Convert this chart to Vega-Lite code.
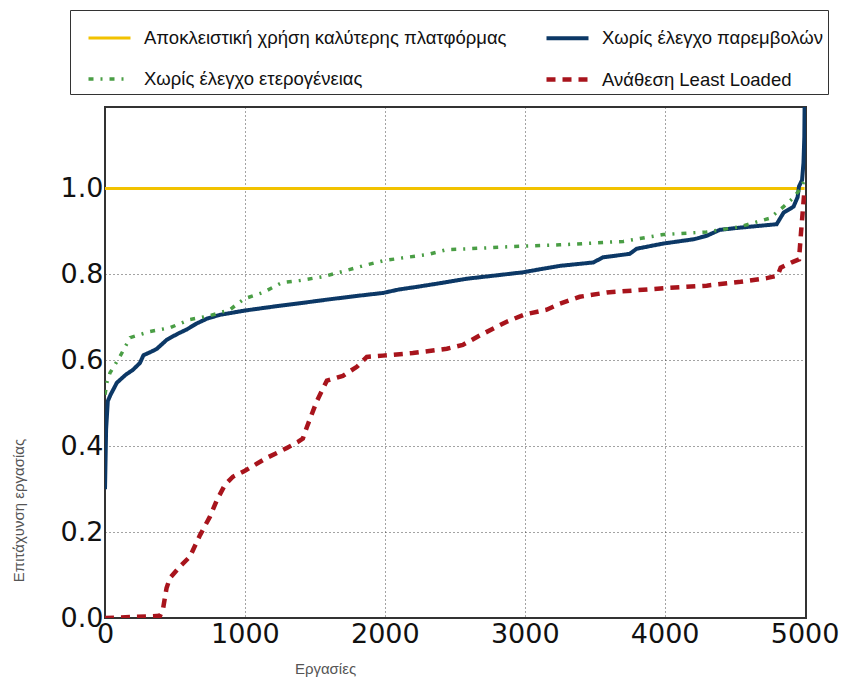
{
  "$schema": "https://vega.github.io/schema/vega-lite/v6.json",
  "width": 701,
  "height": 511,
  "autosize": "none",
  "padding": {"left": 105, "top": 107, "right": 42, "bottom": 63},
  "background": "white",
  "config": {
    "view": {"stroke": "#333", "strokeWidth": 2},
    "axis": {
      "labelFont": "DejaVu Sans",
      "labelFontSize": 27,
      "labelColor": "#111",
      "labelFlush": false,
      "titleFont": "Liberation Sans",
      "titleFontSize": 15,
      "titleFontWeight": "normal",
      "titleColor": "#555",
      "domain": false,
      "ticks": false,
      "gridColor": "#333",
      "gridDash": [1, 3],
      "gridWidth": 1,
      "gridOpacity": 0.9
    },
    "legend": {
      "labelFont": "Liberation Sans",
      "labelFontSize": 18.5,
      "labelColor": "#111"
    }
  },
  "data": {
    "values": [
      {"s": "Αποκλειστική χρήση καλύτερης πλατφόρμας", "x": 0, "y": 1.0},
      {"s": "Αποκλειστική χρήση καλύτερης πλατφόρμας", "x": 5000, "y": 1.0},

      {"s": "Χωρίς έλεγχο παρεμβολών", "x": 0, "y": 0.30},
      {"s": "Χωρίς έλεγχο παρεμβολών", "x": 8, "y": 0.44},
      {"s": "Χωρίς έλεγχο παρεμβολών", "x": 20, "y": 0.505},
      {"s": "Χωρίς έλεγχο παρεμβολών", "x": 40, "y": 0.52},
      {"s": "Χωρίς έλεγχο παρεμβολών", "x": 85, "y": 0.548},
      {"s": "Χωρίς έλεγχο παρεμβολών", "x": 150, "y": 0.567},
      {"s": "Χωρίς έλεγχο παρεμβολών", "x": 200, "y": 0.578},
      {"s": "Χωρίς έλεγχο παρεμβολών", "x": 250, "y": 0.594},
      {"s": "Χωρίς έλεγχο παρεμβολών", "x": 275, "y": 0.612},
      {"s": "Χωρίς έλεγχο παρεμβολών", "x": 330, "y": 0.62},
      {"s": "Χωρίς έλεγχο παρεμβολών", "x": 371, "y": 0.627},
      {"s": "Χωρίς έλεγχο παρεμβολών", "x": 442, "y": 0.648},
      {"s": "Χωρίς έλεγχο παρεμβολών", "x": 520, "y": 0.662},
      {"s": "Χωρίς έλεγχο παρεμβολών", "x": 585, "y": 0.672},
      {"s": "Χωρίς έλεγχο παρεμβολών", "x": 650, "y": 0.685},
      {"s": "Χωρίς έλεγχο παρεμβολών", "x": 728, "y": 0.697},
      {"s": "Χωρίς έλεγχο παρεμβολών", "x": 821, "y": 0.706},
      {"s": "Χωρίς έλεγχο παρεμβολών", "x": 1000, "y": 0.716},
      {"s": "Χωρίς έλεγχο παρεμβολών", "x": 1200, "y": 0.725},
      {"s": "Χωρίς έλεγχο παρεμβολών", "x": 1393, "y": 0.733},
      {"s": "Χωρίς έλεγχο παρεμβολών", "x": 1600, "y": 0.742},
      {"s": "Χωρίς έλεγχο παρεμβολών", "x": 1800, "y": 0.75},
      {"s": "Χωρίς έλεγχο παρεμβολών", "x": 1988, "y": 0.757},
      {"s": "Χωρίς έλεγχο παρεμβολών", "x": 2100, "y": 0.765},
      {"s": "Χωρίς έλεγχο παρεμβολών", "x": 2226, "y": 0.771},
      {"s": "Χωρίς έλεγχο παρεμβολών", "x": 2400, "y": 0.78},
      {"s": "Χωρίς έλεγχο παρεμβολών", "x": 2583, "y": 0.79},
      {"s": "Χωρίς έλεγχο παρεμβολών", "x": 2800, "y": 0.798},
      {"s": "Χωρίς έλεγχο παρεμβολών", "x": 2986, "y": 0.805},
      {"s": "Χωρίς έλεγχο παρεμβολών", "x": 3107, "y": 0.812},
      {"s": "Χωρίς έλεγχο παρεμβολών", "x": 3250, "y": 0.82},
      {"s": "Χωρίς έλεγχο παρεμβολών", "x": 3400, "y": 0.825},
      {"s": "Χωρίς έλεγχο παρεμβολών", "x": 3490, "y": 0.828},
      {"s": "Χωρίς έλεγχο παρεμβολών", "x": 3560, "y": 0.84},
      {"s": "Χωρίς έλεγχο παρεμβολών", "x": 3750, "y": 0.848},
      {"s": "Χωρίς έλεγχο παρεμβολών", "x": 3800, "y": 0.86},
      {"s": "Χωρίς έλεγχο παρεμβολών", "x": 3990, "y": 0.872},
      {"s": "Χωρίς έλεγχο παρεμβολών", "x": 4207, "y": 0.882},
      {"s": "Χωρίς έλεγχο παρεμβολών", "x": 4300, "y": 0.89},
      {"s": "Χωρίς έλεγχο παρεμβολών", "x": 4395, "y": 0.904},
      {"s": "Χωρίς έλεγχο παρεμβολών", "x": 4537, "y": 0.909},
      {"s": "Χωρίς έλεγχο παρεμβολών", "x": 4800, "y": 0.917},
      {"s": "Χωρίς έλεγχο παρεμβολών", "x": 4850, "y": 0.944},
      {"s": "Χωρίς έλεγχο παρεμβολών", "x": 4921, "y": 0.958},
      {"s": "Χωρίς έλεγχο παρεμβολών", "x": 4950, "y": 0.98},
      {"s": "Χωρίς έλεγχο παρεμβολών", "x": 4960, "y": 1.005},
      {"s": "Χωρίς έλεγχο παρεμβολών", "x": 4982, "y": 1.02},
      {"s": "Χωρίς έλεγχο παρεμβολών", "x": 4992, "y": 1.06},
      {"s": "Χωρίς έλεγχο παρεμβολών", "x": 4998, "y": 1.12},
      {"s": "Χωρίς έλεγχο παρεμβολών", "x": 5000, "y": 1.19},

      {"s": "Χωρίς έλεγχο ετερογένειας", "x": 0, "y": 0.52},
      {"s": "Χωρίς έλεγχο ετερογένειας", "x": 15, "y": 0.55},
      {"s": "Χωρίς έλεγχο ετερογένειας", "x": 36, "y": 0.571},
      {"s": "Χωρίς έλεγχο ετερογένειας", "x": 107, "y": 0.609},
      {"s": "Χωρίς έλεγχο ετερογένειας", "x": 180, "y": 0.653},
      {"s": "Χωρίς έλεγχο ετερογένειας", "x": 320, "y": 0.667},
      {"s": "Χωρίς έλεγχο ετερογένειας", "x": 464, "y": 0.676},
      {"s": "Χωρίς έλεγχο ετερογένειας", "x": 607, "y": 0.695},
      {"s": "Χωρίς έλεγχο ετερογένειας", "x": 750, "y": 0.704},
      {"s": "Χωρίς έλεγχο ετερογένειας", "x": 893, "y": 0.718},
      {"s": "Χωρίς έλεγχο ετερογένειας", "x": 960, "y": 0.735},
      {"s": "Χωρίς έλεγχο ετερογένειας", "x": 1000, "y": 0.744},
      {"s": "Χωρίς έλεγχο ετερογένειας", "x": 1130, "y": 0.758},
      {"s": "Χωρίς έλεγχο ετερογένειας", "x": 1264, "y": 0.781},
      {"s": "Χωρίς έλεγχο ετερογένειας", "x": 1393, "y": 0.786},
      {"s": "Χωρίς έλεγχο ετερογένειας", "x": 1560, "y": 0.795},
      {"s": "Χωρίς έλεγχο ετερογένειας", "x": 1700, "y": 0.807},
      {"s": "Χωρίς έλεγχο ετερογένειας", "x": 1843, "y": 0.82},
      {"s": "Χωρίς έλεγχο ετερογένειας", "x": 1988, "y": 0.832},
      {"s": "Χωρίς έλεγχο ετερογένειας", "x": 2157, "y": 0.84},
      {"s": "Χωρίς έλεγχο ετερογένειας", "x": 2300, "y": 0.846},
      {"s": "Χωρίς έλεγχο ετερογένειας", "x": 2443, "y": 0.858},
      {"s": "Χωρίς έλεγχο ετερογένειας", "x": 2607, "y": 0.86},
      {"s": "Χωρίς έλεγχο ετερογένειας", "x": 2914, "y": 0.865},
      {"s": "Χωρίς έλεγχο ετερογένειας", "x": 3250, "y": 0.869},
      {"s": "Χωρίς έλεγχο ετερογένειας", "x": 3704, "y": 0.877},
      {"s": "Χωρίς έλεγχο ετερογένειας", "x": 3990, "y": 0.893},
      {"s": "Χωρίς έλεγχο ετερογένειας", "x": 4300, "y": 0.899},
      {"s": "Χωρίς έλεγχο ετερογένειας", "x": 4537, "y": 0.911},
      {"s": "Χωρίς έλεγχο ετερογένειας", "x": 4750, "y": 0.931},
      {"s": "Χωρίς έλεγχο ετερογένειας", "x": 4850, "y": 0.958},
      {"s": "Χωρίς έλεγχο ετερογένειας", "x": 4921, "y": 0.979},
      {"s": "Χωρίς έλεγχο ετερογένειας", "x": 4970, "y": 1.0},
      {"s": "Χωρίς έλεγχο ετερογένειας", "x": 5000, "y": 1.02},

      {"s": "Ανάθεση Least Loaded", "x": 0, "y": 0.0},
      {"s": "Ανάθεση Least Loaded", "x": 393, "y": 0.005},
      {"s": "Ανάθεση Least Loaded", "x": 414, "y": 0.02},
      {"s": "Ανάθεση Least Loaded", "x": 440, "y": 0.07},
      {"s": "Ανάθεση Least Loaded", "x": 464, "y": 0.093},
      {"s": "Ανάθεση Least Loaded", "x": 536, "y": 0.12},
      {"s": "Ανάθεση Least Loaded", "x": 607, "y": 0.143},
      {"s": "Ανάθεση Least Loaded", "x": 679, "y": 0.193},
      {"s": "Ανάθεση Least Loaded", "x": 750, "y": 0.236},
      {"s": "Ανάθεση Least Loaded", "x": 800, "y": 0.275},
      {"s": "Ανάθεση Least Loaded", "x": 857, "y": 0.31},
      {"s": "Ανάθεση Least Loaded", "x": 914, "y": 0.329},
      {"s": "Ανάθεση Least Loaded", "x": 1000, "y": 0.343},
      {"s": "Ανάθεση Least Loaded", "x": 1157, "y": 0.373},
      {"s": "Ανάθεση Least Loaded", "x": 1300, "y": 0.396},
      {"s": "Ανάθεση Least Loaded", "x": 1379, "y": 0.41},
      {"s": "Ανάθεση Least Loaded", "x": 1414, "y": 0.418},
      {"s": "Ανάθεση Least Loaded", "x": 1443, "y": 0.445},
      {"s": "Ανάθεση Least Loaded", "x": 1514, "y": 0.505},
      {"s": "Ανάθεση Least Loaded", "x": 1586, "y": 0.553},
      {"s": "Ανάθεση Least Loaded", "x": 1700, "y": 0.564},
      {"s": "Ανάθεση Least Loaded", "x": 1800, "y": 0.585},
      {"s": "Ανάθεση Least Loaded", "x": 1871, "y": 0.608},
      {"s": "Ανάθεση Least Loaded", "x": 1986, "y": 0.611},
      {"s": "Ανάθεση Least Loaded", "x": 2200, "y": 0.617},
      {"s": "Ανάθεση Least Loaded", "x": 2443, "y": 0.627},
      {"s": "Ανάθεση Least Loaded", "x": 2557, "y": 0.636},
      {"s": "Ανάθεση Least Loaded", "x": 2679, "y": 0.658},
      {"s": "Ανάθεση Least Loaded", "x": 2871, "y": 0.69},
      {"s": "Ανάθεση Least Loaded", "x": 3000, "y": 0.707},
      {"s": "Ανάθεση Least Loaded", "x": 3157, "y": 0.718},
      {"s": "Ανάθεση Least Loaded", "x": 3250, "y": 0.732},
      {"s": "Ανάθεση Least Loaded", "x": 3393, "y": 0.748},
      {"s": "Ανάθεση Least Loaded", "x": 3586, "y": 0.758},
      {"s": "Ανάθεση Least Loaded", "x": 3993, "y": 0.768},
      {"s": "Ανάθεση Least Loaded", "x": 4300, "y": 0.774},
      {"s": "Ανάθεση Least Loaded", "x": 4543, "y": 0.783},
      {"s": "Ανάθεση Least Loaded", "x": 4736, "y": 0.792},
      {"s": "Ανάθεση Least Loaded", "x": 4807, "y": 0.797},
      {"s": "Ανάθεση Least Loaded", "x": 4829, "y": 0.816},
      {"s": "Ανάθεση Least Loaded", "x": 4921, "y": 0.83},
      {"s": "Ανάθεση Least Loaded", "x": 4960, "y": 0.835},
      {"s": "Ανάθεση Least Loaded", "x": 4975, "y": 0.9},
      {"s": "Ανάθεση Least Loaded", "x": 4990, "y": 0.96},
      {"s": "Ανάθεση Least Loaded", "x": 5000, "y": 1.0}
    ]
  },
  "mark": {"type": "line", "clip": true, "strokeCap": "butt"},
  "encoding": {
    "x": {
      "field": "x",
      "type": "quantitative",
      "scale": {"domain": [0, 5010], "nice": false, "zero": false},
      "axis": {
        "values": [0, 1000, 2000, 3000, 4000, 5000],
        "format": "d",
        "title": "Εργασίες",
        "labelPadding": 3,
        "titleX": 220,
        "titleY": 50,
        "titleAnchor": null,
        "titleBaseline": "middle",
        "titleAlign": "center"
      }
    },
    "y": {
      "field": "y",
      "type": "quantitative",
      "scale": {"domain": [0, 1.19], "nice": false, "zero": false},
      "axis": {
        "values": [0, 0.2, 0.4, 0.6, 0.8, 1.0],
        "format": ".1f",
        "title": "Επιτάχυνση εργασίας",
        "labelPadding": 2,
        "titleX": -87,
        "titleY": 403,
        "titleAngle": -90,
        "titleBaseline": "middle",
        "titleAlign": "center"
      }
    },
    "color": {
      "field": "s",
      "type": "nominal",
      "scale": {
        "domain": ["Αποκλειστική χρήση καλύτερης πλατφόρμας", "Χωρίς έλεγχο ετερογένειας", "Χωρίς έλεγχο παρεμβολών", "Ανάθεση Least Loaded"],
        "range": ["#f2c200", "#4a9e45", "#0c3866", "#a8141c"]
      },
      "legend": {
        "title": null,
        "orient": "none",
        "legendX": -35,
        "legendY": -97,
        "columns": 2,
        "columnPadding": 26,
        "rowPadding": 8,
        "padding": 5,
        "symbolOffset": 11,
        "symbolType": "stroke",
        "symbolSize": 1764,
        "symbolStrokeWidth": 3,
        "labelOffset": 11,
        "strokeColor": "#333",
        "fillColor": "white",
        "labelLimit": 500
      }
    },
    "strokeDash": {
      "field": "s",
      "type": "nominal",
      "scale": {
        "domain": ["Αποκλειστική χρήση καλύτερης πλατφόρμας", "Χωρίς έλεγχο ετερογένειας", "Χωρίς έλεγχο παρεμβολών", "Ανάθεση Least Loaded"],
        "range": [[1, 0], [5, 7, 2, 7], [1, 0], [9, 7]]
      },
      "legend": {
        "title": null,
        "orient": "none",
        "legendX": -35,
        "legendY": -97,
        "columns": 2,
        "columnPadding": 26,
        "rowPadding": 8,
        "padding": 5,
        "symbolOffset": 11,
        "symbolType": "stroke",
        "symbolSize": 1764,
        "symbolStrokeWidth": 3,
        "labelOffset": 11,
        "strokeColor": "#333",
        "fillColor": "white",
        "labelLimit": 500
      }
    },
    "strokeWidth": {
      "field": "s",
      "type": "nominal",
      "scale": {
        "domain": ["Αποκλειστική χρήση καλύτερης πλατφόρμας", "Χωρίς έλεγχο ετερογένειας", "Χωρίς έλεγχο παρεμβολών", "Ανάθεση Least Loaded"],
        "range": [3, 4.5, 2.8, 3.2]
      },
      "legend": null
    }
  }
}
